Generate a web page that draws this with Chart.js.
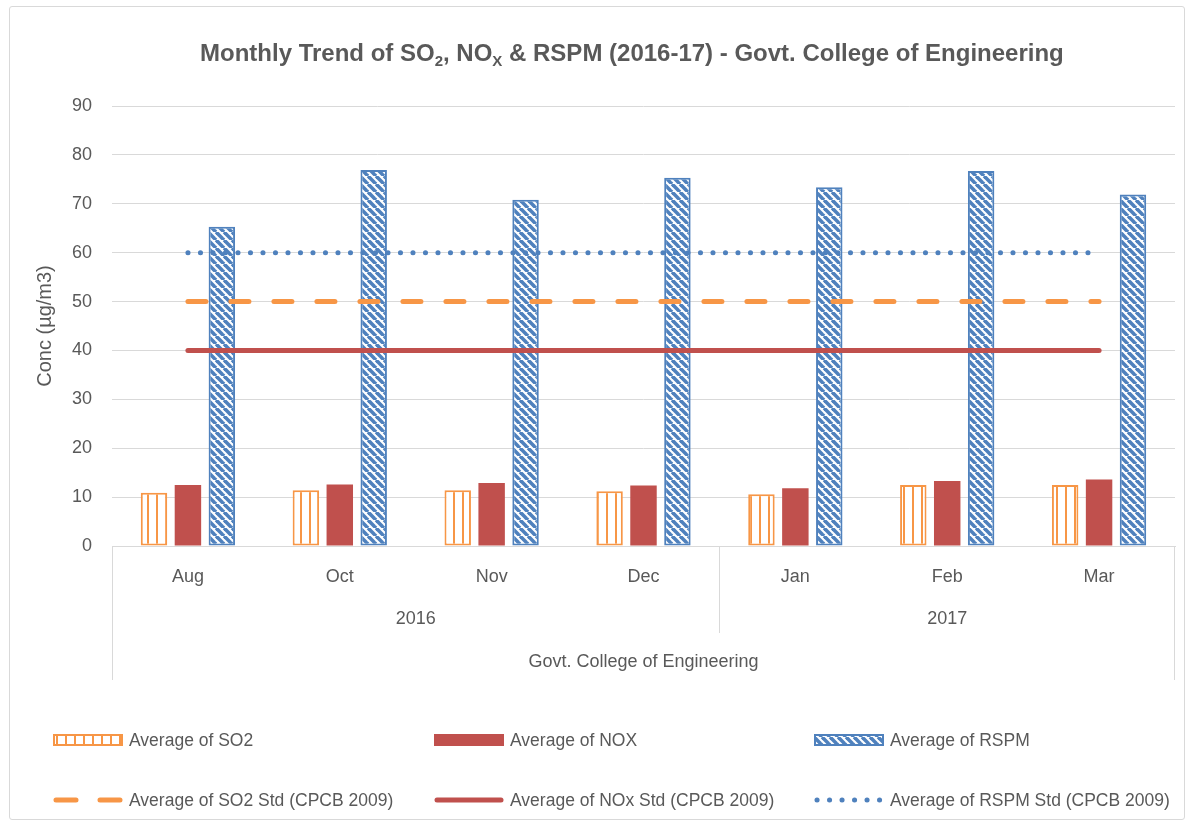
<!DOCTYPE html>
<html>
<head>
<meta charset="utf-8">
<script src="https://cdn.jsdelivr.net/npm/chart.js@4"></script>
<style>
  body { margin: 0; background: #fff; font-family: "Liberation Sans", Arial, sans-serif; color: #595959; }
  #wrap { position: relative; width: 1188px; height: 826px; overflow: hidden; }
  #frame { position: absolute; left: 9px; top: 6px; width: 1176px; height: 814px; border: 1px solid #d9d9d9; border-radius: 3px; box-sizing: border-box; }
  #c { position: absolute; left: 0; top: 0; }
  #title { position: absolute; top: 39px; left: 200px; font-size: 24px; font-weight: bold; white-space: nowrap; }
  #title sub { font-size: 15px; vertical-align: -5px; line-height: 0; }
  .item { position: absolute; display: flex; align-items: center; font-size: 17.5px; white-space: nowrap; }
  .item canvas { margin-right: 6px; }
</style>
</head>
<body>
<div id="wrap">
  <div id="frame"></div>
  <canvas id="c" width="1188" height="826"></canvas>
  <div id="title">Monthly Trend of SO<sub>2</sub>, NO<sub>X</sub> &amp; RSPM (2016-17) - Govt. College of Engineering</div>
  <div id="legend"></div>
</div>
<script>
// data
const months = ["Aug", "Oct", "Nov", "Dec", "Jan", "Feb", "Mar"];
const years = ["2016", "2016", "2016", "2016", "2017", "2017", "2017"];
const groupLabel = "Govt. College of Engineering";
const so2 = [10.9, 11.4, 11.4, 11.2, 10.6, 12.5, 12.5];
const nox = [12.5, 12.6, 12.9, 12.4, 11.8, 13.3, 13.6];
const rspm = [65.3, 76.9, 70.8, 75.3, 73.4, 76.7, 71.9];
const so2Std = [50, 50, 50, 50, 50, 50, 50];
const noxStd = [40, 40, 40, 40, 40, 40, 40];
const rspmStd = [60, 60, 60, 60, 60, 60, 60];

const ORANGE = "#F79646", RED = "#C0504D", BLUE = "#4F81BD";
const TEXT = "#595959", GRID = "#d9d9d9";
const FONT = "'Liberation Sans', Arial, sans-serif";

// hatch fills like Excel's pattern fills
function vStripes(ctx, color) {
  const t = document.createElement("canvas");
  t.width = 9; t.height = 9;
  const g = t.getContext("2d");
  g.fillStyle = "#fff"; g.fillRect(0, 0, 9, 9);
  g.fillStyle = color; g.fillRect(3, 0, 2, 9);
  return ctx.createPattern(t, "repeat");
}
function diagStripes(ctx, color) {
  const s = 8;
  const t = document.createElement("canvas");
  t.width = s; t.height = s;
  const g = t.getContext("2d");
  g.fillStyle = "#fff"; g.fillRect(0, 0, s, s);
  g.strokeStyle = color; g.lineWidth = 3.6;
  for (let x = -s; x <= s; x += s) {
    g.beginPath(); g.moveTo(x, 0); g.lineTo(x + s, s); g.stroke();
  }
  return ctx.createPattern(t, "repeat");
}

const ctx = document.getElementById("c").getContext("2d");

// hatch = which fill the legend swatch should redraw
const datasets = [
  { type: "bar", label: "Average of SO2", data: so2, backgroundColor: vStripes(ctx, ORANGE),
    borderColor: ORANGE, borderWidth: 2, borderSkipped: false, order: 1, hatch: "vs" },
  { type: "bar", label: "Average of NOX", data: nox, backgroundColor: RED, borderWidth: 0, order: 1 },
  { type: "bar", label: "Average of RSPM", data: rspm, backgroundColor: diagStripes(ctx, BLUE),
    borderColor: BLUE, borderWidth: 2, borderSkipped: false, order: 1, hatch: "diag" },
  { type: "line", label: "Average of SO2 Std (CPCB 2009)", data: so2Std, borderColor: ORANGE, fill: false,
    borderWidth: 5, borderDash: [18, 25], borderCapStyle: "round", pointRadius: 0, order: 0 },
  { type: "line", label: "Average of NOx Std (CPCB 2009)", data: noxStd, borderColor: RED, fill: false,
    borderWidth: 5, borderCapStyle: "round", pointRadius: 0, order: 0 },
  { type: "line", label: "Average of RSPM Std (CPCB 2009)", data: rspmStd, borderColor: BLUE, fill: false,
    borderWidth: 5, borderDash: [0.1, 12.4], borderCapStyle: "round", pointRadius: 0, order: 0 }
];

// multi level category labels below the axis (year, site)
const xGroups = {
  id: "xGroups",
  afterDraw(chart) {
    const x = chart.scales.x, c = chart.ctx;
    const top = chart.chartArea.bottom;
    const half = (x.getPixelForValue(1) - x.getPixelForValue(0)) / 2;
    const groups = [];
    years.forEach((y, i) => {
      const g = groups[groups.length - 1];
      if (g && g.label === y) g.end = i; else groups.push({ label: y, start: i, end: i });
    });
    c.save();
    c.strokeStyle = GRID; c.lineWidth = 1;
    const vline = (px, h) => {
      c.beginPath(); c.moveTo(Math.round(px) + 0.5, top); c.lineTo(Math.round(px) + 0.5, top + h); c.stroke();
    };
    vline(x.left, 134);
    vline(x.right - 1, 134);
    c.fillStyle = TEXT; c.font = "18px " + FONT;
    c.textAlign = "center"; c.textBaseline = "middle";
    groups.forEach((g, i) => {
      const l = x.getPixelForValue(g.start) - half;
      const r = x.getPixelForValue(g.end) + half;
      if (i > 0) vline(l, 87);
      c.fillText(g.label, (l + r) / 2, top + 73);
    });
    c.fillText(groupLabel, (x.left + x.right) / 2, top + 116);
    c.restore();
  }
};

new Chart(ctx, {
  data: { labels: months, datasets: datasets.map(d => { const o = Object.assign({}, d); delete o.hatch; return o; }) },
  options: {
    responsive: false,
    animation: false,
    layout: { padding: { top: 106, right: 13, bottom: 140, left: 0 } },
    datasets: { bar: { categoryPercentage: 0.67, barPercentage: 0.78 } },
    plugins: { legend: { display: false }, title: { display: false }, tooltip: { enabled: false } },
    scales: {
      x: {
        offset: true,
        grid: { display: false, drawTicks: false },
        border: { display: true, color: GRID, width: 1 },
        ticks: { color: TEXT, font: { family: FONT, size: 18 }, padding: 20 },
        afterFit(s) { s.height = 140; }
      },
      y: {
        min: 0, max: 90,
        ticks: { stepSize: 10, color: TEXT, font: { family: FONT, size: 18 }, padding: 20 },
        grid: { color: GRID, drawTicks: false },
        border: { display: false },
        title: { display: true, text: "Conc (µg/m3)", color: TEXT, font: { family: FONT, size: 20 }, padding: { top: 33, bottom: 0 } },
        afterFit(s) { s.width = 112; }
      }
    }
  },
  plugins: [xGroups]
});

// legend, 3 columns x 2 rows
const legendCols = [53, 434, 814];
const legendRows = [740, 800];
const legend = document.getElementById("legend");
datasets.forEach((d, i) => {
  const item = document.createElement("div");
  item.className = "item";
  item.style.left = legendCols[i % 3] + "px";
  item.style.top = (legendRows[Math.floor(i / 3)] - 11) + "px";
  const sw = document.createElement("canvas");
  sw.width = 70; sw.height = 22;
  const g = sw.getContext("2d");
  if (d.type === "bar") {
    g.fillStyle = d.hatch === "vs" ? vStripes(g, d.borderColor) : d.hatch === "diag" ? diagStripes(g, d.borderColor) : d.backgroundColor;
    g.fillRect(0, 5, 70, 12);
    if (d.borderWidth) { g.strokeStyle = d.borderColor; g.lineWidth = 2; g.strokeRect(1, 6, 68, 10); }
  } else {
    g.strokeStyle = d.borderColor; g.lineWidth = d.borderWidth; g.lineCap = "round";
    if (d.borderDash) g.setLineDash(d.borderDash[0] > 1 ? [20, 24] : d.borderDash);
    g.beginPath(); g.moveTo(3, 11); g.lineTo(67, 11); g.stroke();
  }
  item.appendChild(sw);
  const t = document.createElement("span");
  t.textContent = d.label;
  item.appendChild(t);
  legend.appendChild(item);
});
</script>
</body>
</html>
